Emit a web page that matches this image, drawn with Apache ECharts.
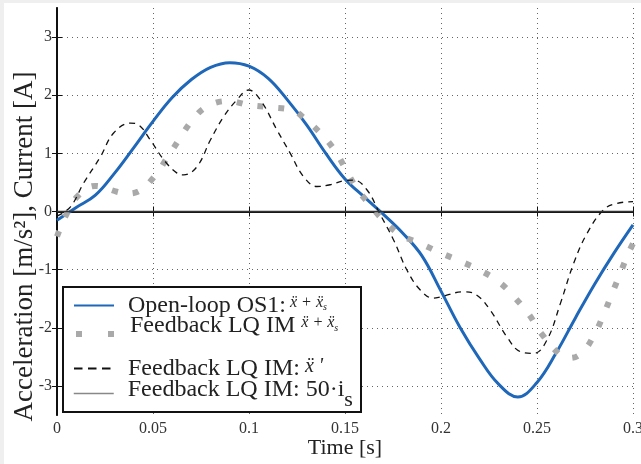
<!DOCTYPE html>
<html>
<head>
<meta charset="utf-8">
<script src="https://cdn.jsdelivr.net/npm/echarts@6/dist/echarts.min.js"></script>
<style>
html,body{margin:0;padding:0;background:#fff;}
#c{width:641px;height:464px;}
</style>
</head>
<body>
<div id="c"></div>
<script>
// ---- data ----
const openT = [0, 0.01, 0.02, 0.03, 0.04, 0.05, 0.06, 0.07, 0.08, 0.09, 0.10, 0.11, 0.12, 0.13, 0.14, 0.15, 0.16, 0.17, 0.18, 0.19, 0.20, 0.21, 0.22, 0.23, 0.24, 0.25, 0.26, 0.27, 0.28, 0.29, 0.30];
const openV = [-0.15, 0.07, 0.28, 0.66, 1.10, 1.55, 1.96, 2.27, 2.48, 2.56, 2.50, 2.29, 1.92, 1.49, 1.00, 0.56, 0.25, -0.05, -0.37, -0.76, -1.37, -2.00, -2.53, -2.97, -3.19, -2.94, -2.43, -1.83, -1.25, -0.72, -0.23];

const fbT = [0, 0.0043, 0.0104, 0.0199, 0.0312, 0.036, 0.042, 0.0507, 0.0573, 0.0634, 0.07, 0.0778, 0.0891, 0.1002, 0.1115, 0.1227, 0.1279, 0.1366, 0.1438, 0.1497, 0.1554, 0.1623, 0.170, 0.1788, 0.1892, 0.1997, 0.2104, 0.2209, 0.2309, 0.2387, 0.246, 0.2523, 0.2622, 0.267, 0.2734, 0.28, 0.2847, 0.289, 0.2934, 0.2977, 0.3];
const fbV = [-0.43, -0.09, 0.25, 0.44, 0.34, 0.31, 0.34, 0.60, 0.92, 1.23, 1.55, 1.80, 1.90, 1.83, 1.79, 1.74, 1.63, 1.37, 1.09, 0.77, 0.43, 0.14, -0.15, -0.40, -0.55, -0.71, -0.86, -1.02, -1.23, -1.49, -1.78, -2.10, -2.47, -2.52, -2.43, -2.11, -1.77, -1.42, -1.06, -0.71, -0.55];

const ddT = [0, 0.007, 0.0139, 0.0226, 0.0295, 0.0382, 0.0425, 0.0486, 0.0556, 0.0625, 0.066, 0.0729, 0.0799, 0.0868, 0.0937, 0.0998, 0.1059, 0.1146, 0.1215, 0.1284, 0.1354, 0.1423, 0.1493, 0.1545, 0.1615, 0.168, 0.1753, 0.1823, 0.1892, 0.196, 0.1997, 0.2118, 0.2187, 0.2257, 0.2344, 0.2413, 0.2483, 0.2552, 0.2622, 0.2691, 0.276, 0.2847, 0.2917, 0.3];
const ddV = [-0.08, 0.08, 0.49, 0.94, 1.35, 1.52, 1.49, 1.23, 0.89, 0.66, 0.63, 0.77, 1.23, 1.63, 1.92, 2.09, 1.92, 1.40, 1.00, 0.60, 0.43, 0.46, 0.53, 0.54, 0.37, -0.03, -0.49, -1.01, -1.35, -1.49, -1.47, -1.38, -1.44, -1.70, -2.16, -2.41, -2.44, -2.21, -1.58, -0.89, -0.38, 0.03, 0.14, 0.17];

const curT = [0, 0.3];
const curV = [0, 0];

const xTicks = [0, 0.05, 0.1, 0.15, 0.2, 0.25, 0.3];
const yTicks = [-3, -2, -1, 0, 1, 2, 3];

const names = ['Open-loop OS1', 'Feedback LQ IM', 'Feedback LQ IM:', 'Feedback LQ IM: 50·i'];

// ---- build ----
const zip = (a, b) => a.map((t, i) => [t, b[i]]);
const SERIF = 'Liberation Serif';
const rich = {
  t: {fontFamily: SERIF, fontSize: 24, color: '#222', lineHeight: 26},
  m: {fontFamily: SERIF, fontSize: 16, fontStyle: 'italic', color: '#222', padding: [0, 0, 6, 0]},
  s: {fontFamily: SERIF, fontSize: 10, fontStyle: 'italic', color: '#222', padding: [4, 0, 0, 0]},
  m2: {fontFamily: SERIF, fontSize: 20, fontStyle: 'italic', color: '#222', padding: [0, 0, 4, 0]},
  s2: {fontFamily: SERIF, fontSize: 22, color: '#222', padding: [22, 0, 0, 0]}
};
const texts = {
  'Open-loop OS1': '{t|Open-loop OS1:}{m| ẍ + ẍ}{s|s}',
  'Feedback LQ IM': '{t|Feedback LQ IM }{m|ẍ + ẍ}{s|s}',
  'Feedback LQ IM:': '{t|Feedback LQ IM:}{m2| ẍ \'}',
  'Feedback LQ IM: 50·i': '{t|Feedback LQ IM: 50·i}{s2|s}'
};
function mkLegend(item, center, pad) {
  return {
    data: [item], left: 73, top: center - 22, padding: 0,
    itemWidth: 40, itemHeight: 44, orient: 'vertical',
    itemStyle: {opacity: 0},
    formatter: n => texts[n],
    textStyle: {rich: rich, padding: pad},
    z: 10
  };
}

const chart = echarts.init(document.getElementById('c'), null, {renderer: 'canvas'});
const tickLabel = {fontFamily: SERIF, fontSize: 16, color: '#333'};
const gridLine = {show: true, lineStyle: {color: '#666', width: 1, type: [1, 4]}};

chart.setOption({
  animation: false,
  backgroundColor: '#fff',
  grid: {left: 57, top: 8, right: 8, bottom: 49, outerBoundsMode: 'none', containLabel: false},
  graphic: [
    {type: 'rect', left: 0, top: 0, shape: {width: 4, height: 464}, style: {fill: '#efefef'}, z: 1},
    {type: 'rect', left: 0, top: 0, shape: {width: 641, height: 3}, style: {fill: '#efefef'}, z: 1},
    {type: 'rect', left: 62, top: 286, shape: {width: 298, height: 125}, style: {fill: '#fff', stroke: '#111', lineWidth: 2}, z: 5}
  ],
  xAxis: [
    {type: 'value', min: 0, max: 0.3, interval: 0.05, position: 'bottom',
     name: 'Time [s]', nameLocation: 'middle', nameGap: 22, nameMoveOverlap: false,
     nameTextStyle: {fontFamily: SERIF, fontSize: 22, color: '#222'},
     axisLine: {lineStyle: {color: '#111', width: 2}},
     axisTick: {inside: true, length: 5, lineStyle: {color: '#111'}},
     axisLabel: Object.assign({margin: 6}, tickLabel),
     splitLine: gridLine},
    {type: 'value', min: 0, max: 0.3, interval: 0.05, position: 'top',
     axisLine: {lineStyle: {color: '#111', width: 1.5}},
     axisTick: {inside: true, length: 5, lineStyle: {color: '#111'}},
     axisLabel: {show: false}, splitLine: {show: false}}
  ],
  yAxis: [
    {type: 'value', min: -3.5, max: 3.5, position: 'left',
     name: 'Acceleration [m/s²], Current [A]', nameLocation: 'middle', nameGap: 19,
     nameMoveOverlap: false,
     nameTextStyle: {fontFamily: SERIF, fontSize: 27, color: '#222', padding: [0, 70, 0, 0]},
     axisLine: {lineStyle: {color: '#111', width: 2}},
     axisTick: {inside: true, length: 5, lineStyle: {color: '#111'}, customValues: yTicks},
     axisLabel: Object.assign({margin: 5, customValues: yTicks}, tickLabel),
     splitLine: gridLine},
    {type: 'value', min: -3.5, max: 3.5, position: 'right',
     axisLine: {lineStyle: {color: '#111', width: 1.5}},
     axisTick: {inside: true, length: 5, lineStyle: {color: '#111'}, customValues: yTicks},
     axisLabel: {show: false}, splitLine: {show: false}}
  ],
  legend: [
    mkLegend(names[0], 310, [0, 0, 0, 9]),
    mkLegend({name: names[1], lineStyle: {type: [6, 26], width: 6, cap: 'butt'}}, 336, [0, 0, 16, 9]),
    mkLegend({name: names[2], lineStyle: {type: [8.5, 5.5]}}, 373, [0, 0, 0, 9]),
    mkLegend({name: names[3], lineStyle: {color: '#888', width: 1.5}}, 398, [0, 0, 8, 9])
  ],
  series: [
    {name: names[0], type: 'line', data: zip(openT, openV), smooth: 0.4, symbol: 'none',
     lineStyle: {color: '#1f67b8', width: 3}, itemStyle: {color: '#1f67b8'}, z: 2},
    {name: names[1], type: 'line', data: zip(fbT, fbV), smooth: 0.4, symbol: 'none',
     lineStyle: {color: '#a9a9a9', width: 6, type: [6, 15], cap: 'butt'}, itemStyle: {color: '#a9a9a9'}, z: 3},
    {name: names[2], type: 'line', data: zip(ddT, ddV), smooth: 0.4, symbol: 'none',
     lineStyle: {color: '#111', width: 1.3, type: [6, 5]}, itemStyle: {color: '#111'}, z: 4},
    {name: names[3], type: 'line', data: zip(curT, curV), symbol: 'none',
     lineStyle: {color: '#333', width: 1.3}, itemStyle: {color: '#888'}, z: 4}
  ]
});
</script>
</body>
</html>
